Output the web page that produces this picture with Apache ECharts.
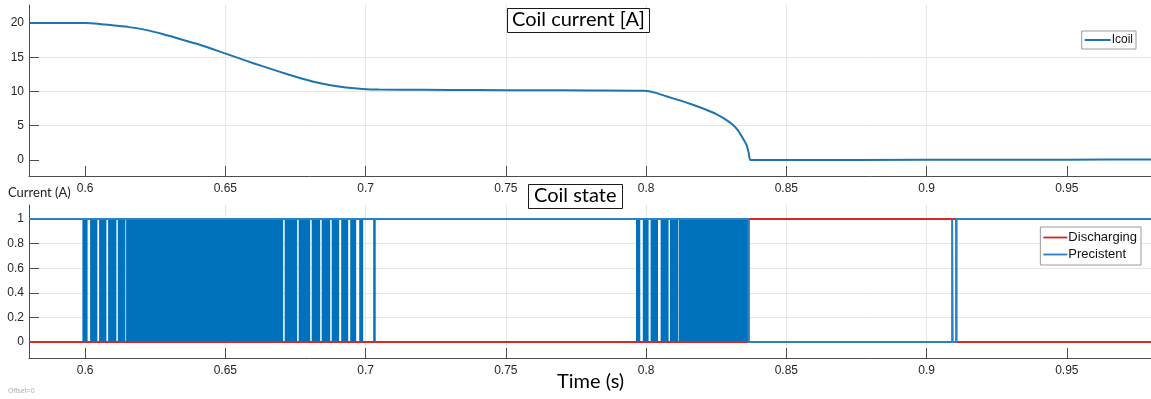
<!DOCTYPE html>
<html><head><meta charset="utf-8">
<script src="https://cdn.jsdelivr.net/npm/echarts@6/dist/echarts.min.js"></script>
<style>html,body{margin:0;padding:0;background:#fff}#c{width:1151px;height:399px}</style>
</head><body><div id="c"></div>
<script>
// ---- Coil current (top plot) ----
const icoilTime = [0.58, 0.59, 0.6, 0.6045, 0.6097, 0.6157, 0.6216, 0.6276, 0.6335, 0.6395, 0.6454, 0.6496, 0.6573, 0.6632, 0.6692, 0.6751, 0.6811, 0.687, 0.693, 0.6989, 0.7048, 0.72, 0.74, 0.76, 0.78, 0.7994, 0.8035, 0.8072, 0.812, 0.8164, 0.821, 0.825, 0.828, 0.8307, 0.8328, 0.8343, 0.8358, 0.8366, 0.8372, 0.85, 0.9, 0.95, 0.98];
const icoilValue = [20, 20, 20, 19.9, 19.66, 19.4, 19.0, 18.4, 17.7, 17.0, 16.2, 15.6, 14.5, 13.7, 12.9, 12.15, 11.45, 10.95, 10.6, 10.38, 10.28, 10.24, 10.21, 10.18, 10.15, 10.1, 9.8, 9.3, 8.7, 8.1, 7.4, 6.7, 6.0, 5.2, 4.3, 3.3, 2.2, 1.0, 0, 0, 0.02, 0.05, 0.08];

// ---- Coil state (bottom plot) ----
const precistentTime = [0.58, 0.83655, 0.83655, 0.9091, 0.9091, 0.9093, 0.9093, 0.9106, 0.9106, 0.98];
const precistentValue = [1, 1, 0, 0, 1, 1, 0, 0, 1, 1];
const dischargingTime = [0.58, 0.83655, 0.83655, 0.9106, 0.9106, 0.98];
const dischargingValue = [0, 0, 1, 1, 0, 0];
// intervals where the Precistent state chatters between 0 and 1 (drawn solid)
const chatterStart = [0.59904, 0.60178, 0.60499, 0.60820, 0.61166, 0.61462, 0.67115, 0.67614, 0.68078, 0.68434, 0.68791, 0.69130, 0.69451, 0.69772, 0.70271, 0.79640, 0.79882, 0.80160, 0.80517, 0.80852, 0.81159];
const chatterEnd   = [0.60089, 0.60439, 0.60760, 0.61116, 0.61437, 0.67061, 0.67561, 0.68024, 0.68381, 0.68738, 0.69058, 0.69379, 0.69665, 0.69914, 0.70360, 0.79793, 0.80089, 0.80424, 0.80802, 0.81138, 0.83655];

const BLUE = '#0072BD', RED = '#D9262B', LBLUE = '#2a82c4', CURVE = '#1f74ad';
const axisColor = '#4d4d4d', gridColor = '#e6e6e6', labelColor = '#262626';
const labelFont = 'Liberation Sans';
const LINE_ICON = 'path://M0,0H26V2H0Z';

function xAxisCfg(gi) {
  return {
    type: 'value', gridIndex: gi, min: 0.58, max: 0.98, minInterval: 0.05, maxInterval: 0.05,
    axisLine: { show: true, onZero: false, lineStyle: { color: axisColor, width: 1 } },
    axisTick: { show: true, inside: true, length: 10, customValues: [0.6, 0.65, 0.7, 0.75, 0.8, 0.85, 0.9, 0.95], lineStyle: { color: axisColor } },
    axisLabel: { showMinLabel: false, showMaxLabel: false, margin: 7, color: labelColor, fontSize: 12, fontFamily: labelFont },
    splitLine: { show: true, showMinLine: false, showMaxLine: false, lineStyle: { color: gridColor, width: 1 } }
  };
}
function yAxisCfg(gi, min, max, step, ticks) {
  return {
    type: 'value', gridIndex: gi, min: min, max: max, minInterval: step, maxInterval: step,
    axisLine: { show: true, onZero: false, lineStyle: { color: axisColor, width: 1 } },
    axisTick: { show: true, inside: true, length: 10, customValues: ticks, lineStyle: { color: axisColor } },
    axisLabel: { showMinLabel: false, showMaxLabel: false, margin: 5, color: labelColor, fontSize: 12, fontFamily: labelFont },
    splitLine: { show: true, showMinLine: false, showMaxLine: false, lineStyle: { color: gridColor, width: 1 } }
  };
}
const zip = (a, b) => a.map((v, i) => [v, b[i]]);
const boxTitle = { fontFamily: 'Lato', fontSize: 20, fontWeight: 'normal', color: '#000' };

const chart = echarts.init(document.getElementById('c'), null, { renderer: 'canvas' });
chart.setOption({
  animation: false,
  backgroundColor: '#fff',
  grid: [
    { left: 29, right: 0, top: 5, height: 171 },
    { left: 29, right: 0, top: 205, height: 153 }
  ],
  xAxis: [xAxisCfg(0), xAxisCfg(1)],
  yAxis: [
    yAxisCfg(0, -2.34, 22.63, 5, [0, 5, 10, 15, 20]),
    yAxisCfg(1, -0.13, 1.114, 0.2, [0, 0.2, 0.4, 0.6, 0.8, 1])
  ],
  title: [
    { text: 'Coil current [A]', left: 507, top: 8, padding: [2, 5, 3, 5], borderColor: '#1a1a1a', borderWidth: 1, backgroundColor: '#fff', textStyle: boxTitle },
    { text: 'Coil state', left: 528, top: 184, padding: [2, 6, 3, 6], borderColor: '#1a1a1a', borderWidth: 1, backgroundColor: '#fff', textStyle: boxTitle },
    { text: 'Time (s)', left: 557, top: 372, padding: 0, textStyle: boxTitle },
    { text: 'Current (A)', left: 8, top: 186, padding: 0, textStyle: { fontFamily: 'Lato', fontSize: 13, fontWeight: 'normal', color: '#222' } },
    { text: 'Offset=0', left: 8, top: 388, padding: 0, textStyle: { fontFamily: labelFont, fontSize: 7, fontWeight: 'normal', color: '#b0b0b0' } }
  ],
  legend: [
    { data: [{ name: 'Icoil', icon: LINE_ICON }], orient: 'vertical', right: 15, top: 31, padding: [3, 3, 3, 3], itemWidth: 26, itemHeight: 2, itemGap: 2,
      borderColor: '#9a9a9a', borderWidth: 1, backgroundColor: '#fff', borderRadius: 0,
      textStyle: { fontFamily: labelFont, fontSize: 12, color: '#111', padding: [0, 0, 0, -4], lineHeight: 12 } },
    { data: [{ name: 'Discharging', icon: LINE_ICON }, { name: 'Precistent', icon: LINE_ICON }], orient: 'vertical', right: 10, top: 227,
      padding: [3, 4, 3, 3], itemWidth: 24, itemHeight: 2, itemGap: 2,
      borderColor: '#9a9a9a', borderWidth: 1, backgroundColor: '#fff', borderRadius: 0,
      textStyle: { fontFamily: labelFont, fontSize: 13, color: '#111', padding: [0, 0, 0, -4], lineHeight: 15 } }
  ],
  series: [
    { name: 'Icoil', type: 'line', xAxisIndex: 0, yAxisIndex: 0, data: zip(icoilTime, icoilValue), symbol: 'none',
      smooth: 0.2, lineStyle: { color: CURVE, width: 2 }, itemStyle: { color: CURVE }, z: 3 },
    { name: 'chatter', type: 'custom', xAxisIndex: 1, yAxisIndex: 1, data: zip(chatterStart, chatterEnd), encode: { x: [0, 1] }, z: 2,
      renderItem: function (params, api) {
        const p0 = api.coord([api.value(0), 1]);
        const p1 = api.coord([api.value(1), 0]);
        return { type: 'rect', shape: { x: p0[0], y: p0[1], width: Math.max(p1[0] - p0[0], 1), height: p1[1] - p0[1] }, style: { fill: BLUE } };
      } },
    { name: 'Discharging', type: 'line', xAxisIndex: 1, yAxisIndex: 1, data: zip(dischargingTime, dischargingValue), symbol: 'none',
      lineStyle: { color: RED, width: 2 }, itemStyle: { color: RED }, z: 3 },
    { name: 'Precistent', type: 'line', xAxisIndex: 1, yAxisIndex: 1, data: zip(precistentTime, precistentValue), symbol: 'none',
      lineStyle: { color: LBLUE, width: 2 }, itemStyle: { color: LBLUE }, z: 4 }
  ]
});
</script>
</body></html>
